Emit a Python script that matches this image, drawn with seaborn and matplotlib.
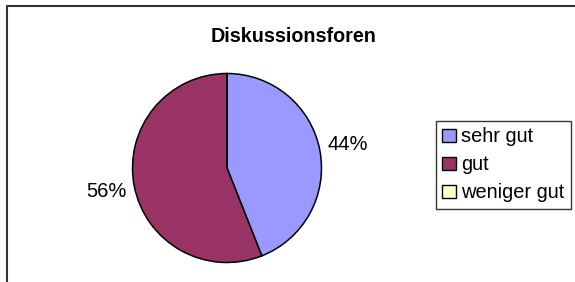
import matplotlib
matplotlib.use("Agg")
import matplotlib.pyplot as plt
import seaborn as sns
import pandas as pd

# data
categories = ["sehr gut", "gut", "weniger gut"]
shares = [44, 56, 0]
colors = ["#9999FF", "#993366", "#FFFFCC"]
title = "Diskussionsforen"

df = pd.DataFrame({"kategorie": categories, "anteil": shares})

sns.set_theme(style="white")
plt.rcParams["font.family"] = ["Liberation Sans", "DejaVu Sans"]

W, H = 575, 282
fig = plt.figure(figsize=(W / 100, H / 100), dpi=100)
fig.patch.set_facecolor("white")

# pie centre (227,168) px, radius 94.5 px
cx, cy, r = 227, 168, 94.5
ax = fig.add_axes([(cx - r) / W, (H - cy - r) / H, 2 * r / W, 2 * r / H])


def pct(v):
    return "" if v < 0.5 else f"{v:.0f}%"


wedges, texts, autotexts = ax.pie(
    df["anteil"], colors=colors, startangle=90, counterclock=False,
    autopct=pct, pctdistance=1.3,
    wedgeprops=dict(edgecolor="black", linewidth=1.1),
    textprops=dict(fontsize=14.5, color="black"),
)
ax.set_xlim(-1, 1)
ax.set_ylim(-1, 1)
ax.set_aspect("equal")
ax.axis("off")

fig.text(294 / W, 1 - 36.5 / H, title, ha="center", va="center",
         fontsize=14.2, fontweight="bold", color="black")

leg = fig.legend(wedges, df["kategorie"], loc="upper left",
                 bbox_to_anchor=(435.5 / W, 1 - 121 / H),
                 bbox_transform=fig.transFigure,
                 fontsize=14.4, frameon=True, fancybox=False, shadow=False,
                 edgecolor="black", handlelength=0.7, handleheight=0.68,
                 handletextpad=0.25, labelspacing=0.45, borderpad=0.32,
                 borderaxespad=0)
leg.get_frame().set_linewidth(1)
for t in leg.get_texts():
    t.set_color("black")
for h in leg.legend_handles:
    h.set_edgecolor("black")
    h.set_linewidth(1)

# chart area border: only top and left edges are inside the image
fig.add_artist(plt.Line2D([6.5 / W, 1.1], [1 - 5.5 / H, 1 - 5.5 / H],
                          transform=fig.transFigure, color="#333333", linewidth=1.5))
fig.add_artist(plt.Line2D([6.5 / W, 6.5 / W], [-0.1, 1 - 5.5 / H],
                          transform=fig.transFigure, color="#333333", linewidth=1.5))

fig.savefig("out.png", dpi=100)
